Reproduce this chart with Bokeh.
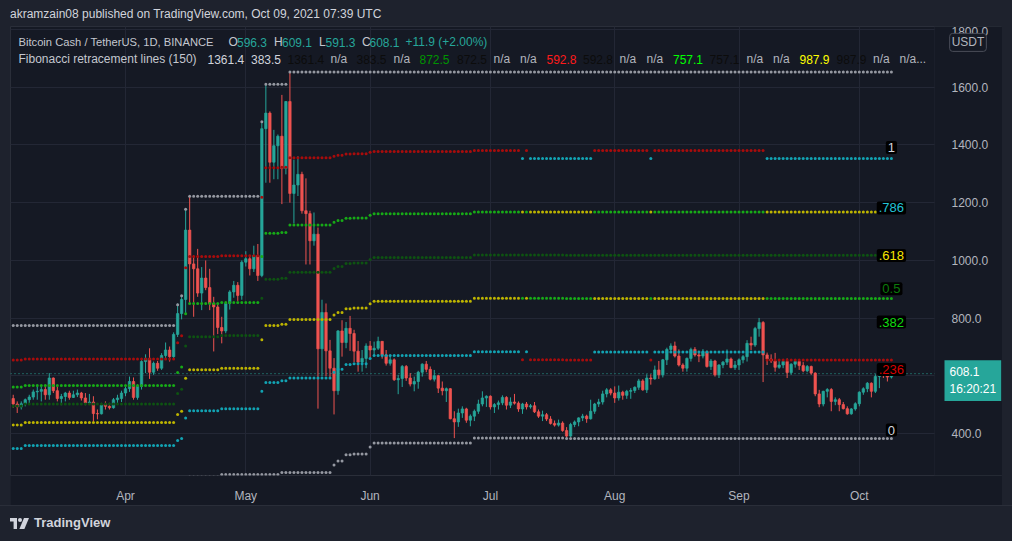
import numpy as np
import pandas as pd
from bokeh.plotting import figure
from bokeh.models import (ColumnDataSource, Span, Label, FixedTicker, BoxAnnotation,
                          NumeralTickFormatter, DatetimeTickFormatter, Range1d, Div)
from bokeh.layouts import column, row
from bokeh.embed import file_html
from bokeh.resources import INLINE

# ---------------- data (BCH/USDT daily, Binance) ----------------
FIRST_DAY = "2021-03-04"

OPEN = [
    522, 503, 493, 504, 518, 527, 545, 547, 553, 535, 593, 549, 522, 529, 541, 526, 535, 541, 524, 507, 510, 470, 469, 503, 495, 490, 518, 522,
    541, 556, 581, 526, 564, 650, 661, 613, 644, 627, 671, 690, 667, 744, 816, 865, 1105, 988, 971, 887, 939, 906, 851, 839, 768, 756, 851, 891, 914, 879,
    994, 1006, 971, 1017, 948, 1456, 1510, 1340, 1397, 1430, 1318, 1550, 1232, 1261, 1298, 1172, 1162, 1068, 1091, 694, 820, 687, 627, 549, 756, 716, 765, 747, 686, 648, 661,
    704, 690, 696, 720, 673, 644, 656, 587, 591, 633, 593, 572, 581, 613, 641, 623, 589, 601, 558, 549, 556, 452, 441, 472, 486, 447, 461, 478, 503, 524,
    530, 493, 501, 507, 526, 499, 510, 506, 486, 503, 493, 497, 476, 461, 466, 451, 436, 430, 437, 411, 392, 432, 441, 455, 461, 452, 478, 503, 510, 538, 552,
    541, 524, 544, 533, 547, 550, 561, 583, 552, 593, 590, 621, 604, 656, 692, 704, 669, 638, 627, 661, 692, 673, 669, 684, 633, 652, 604, 638, 648, 659, 629,
    638, 656, 667, 713, 707, 764, 785, 673, 659, 652, 630, 638, 650, 612, 641, 650, 636, 618, 633, 610, 538, 503, 547, 553, 512, 518, 501, 487, 469, 486,
    504, 544, 556, 575, 547, 598, 618, 607, 596.3,
]
HIGH = [
    535, 512, 512, 522, 535, 553, 570, 567, 570, 610, 595, 564, 538, 545, 549, 549, 553, 545, 541, 538, 530, 484, 507, 512, 507, 524, 535, 549,
    564, 598, 595, 572, 656, 675, 696, 650, 652, 679, 716, 702, 751, 851, 880, 1181, 1221, 1017, 1040, 977, 1000, 971, 874, 851, 805, 853, 897, 929, 925, 1000,
    1032, 1017, 1051, 1057, 1479, 1610, 1516, 1452, 1436, 1573, 1552, 1651, 1349, 1361, 1307, 1284, 1172, 1166, 1114, 864, 851, 725, 662, 759, 793, 787, 808, 760, 721, 690, 713,
    721, 719, 736, 721, 690, 673, 661, 604, 638, 638, 610, 598, 618, 644, 652, 633, 621, 604, 581, 560, 558, 478, 487, 495, 490, 467, 484, 518, 547, 533,
    533, 506, 515, 533, 530, 526, 538, 512, 507, 510, 503, 510, 484, 480, 472, 461, 446, 449, 443, 423, 438, 446, 457, 469, 466, 518, 507, 521, 549, 558, 558,
    564, 567, 549, 552, 558, 564, 590, 589, 606, 606, 636, 652, 659, 698, 713, 719, 692, 644, 664, 698, 700, 687, 693, 688, 659, 656, 641, 652, 692, 664, 652,
    661, 673, 724, 736, 770, 801, 790, 681, 675, 680, 652, 659, 661, 644, 659, 656, 648, 638, 636, 613, 552, 549, 558, 558, 526, 524, 510, 495, 489, 509,
    547, 561, 579, 578, 606, 627, 638, 627, 609.1,
]
LOW = [
    490, 472, 484, 495, 500, 518, 518, 512, 518, 518, 541, 512, 499, 512, 518, 524, 527, 515, 499, 501, 438, 450, 467, 484, 484, 487, 503, 510,
    530, 545, 518, 518, 553, 610, 590, 604, 618, 621, 659, 650, 660, 735, 796, 816, 851, 805, 874, 828, 897, 828, 685, 745, 713, 748, 830, 871, 860, 864,
    979, 948, 960, 929, 942, 1269, 1269, 1281, 1281, 1195, 1298, 1200, 1128, 1223, 1162, 986, 986, 1051, 487, 599, 599, 593, 467, 535, 667, 696, 687, 648, 615, 615, 627,
    661, 669, 690, 660, 636, 636, 583, 537, 562, 583, 564, 547, 556, 598, 613, 585, 581, 541, 533, 510, 450, 385, 424, 455, 438, 426, 444, 469, 495, 493,
    484, 472, 484, 499, 484, 489, 501, 476, 469, 484, 487, 472, 455, 444, 444, 432, 425, 425, 407, 383.5, 389, 423, 426, 444, 438, 449, 469, 493, 501, 526, 533,
    507, 515, 518, 521, 521, 541, 552, 549, 541, 570, 587, 590, 595, 638, 684, 664, 633, 615, 615, 650, 667, 648, 661, 629, 621, 598, 593, 627, 638, 627, 621,
    621, 644, 650, 690, 701, 736, 579, 638, 645, 615, 625, 627, 593, 604, 629, 621, 613, 613, 604, 530, 492, 495, 526, 478, 499, 478, 484, 466, 466, 480,
    495, 535, 544, 526, 541, 558, 593, 581, 591.3,
]
CLOSE = [
    503, 493, 504, 518, 527, 545, 547, 553, 535, 593, 549, 522, 529, 541, 526, 535, 541, 524, 507, 510, 470, 469, 499, 495, 490, 518, 524, 541,
    556, 581, 526, 564, 650, 661, 613, 644, 627, 671, 690, 667, 744, 816, 865, 1105, 988, 971, 887, 939, 906, 851, 839, 768, 756, 851, 891, 914, 879, 994,
    1006, 971, 1017, 948, 1456, 1510, 1340, 1397, 1430, 1318, 1550, 1232, 1261, 1298, 1172, 1162, 1068, 1091, 694, 820, 687, 627, 549, 756, 716, 765, 747, 686, 648, 661, 704,
    690, 696, 720, 673, 644, 656, 587, 591, 633, 593, 572, 581, 613, 641, 623, 589, 601, 558, 549, 556, 452, 441, 472, 486, 447, 461, 478, 503, 524, 530,
    493, 501, 507, 526, 499, 510, 506, 486, 503, 493, 497, 476, 461, 466, 451, 436, 430, 437, 411, 392, 432, 441, 455, 461, 452, 478, 503, 510, 538, 552, 541,
    524, 544, 533, 547, 550, 561, 583, 552, 593, 590, 621, 604, 656, 692, 704, 669, 638, 627, 661, 692, 673, 669, 684, 633, 652, 604, 638, 648, 659, 629, 638,
    656, 667, 713, 707, 764, 785, 673, 659, 652, 630, 638, 650, 612, 641, 650, 636, 618, 633, 610, 538, 503, 547, 553, 512, 518, 501, 487, 469, 486, 504,
    544, 556, 575, 547, 598, 618, 607, 596.3, 608.1,
]

# Fibonacci indicator (150): highest high / lowest low steps
HI_FROM = ["2021-03-04", "2021-04-14", "2021-04-15", "2021-04-16", "2021-04-17",
           "2021-05-05", "2021-05-06", "2021-05-12"]
HI_VAL = [775, 847, 878, 1177, 1222, 1480, 1610, 1652]
LO_FROM = ["2021-03-04", "2021-03-07", "2021-04-17", "2021-04-25", "2021-05-10",
           "2021-05-23", "2021-05-24", "2021-05-26", "2021-05-28", "2021-06-01",
           "2021-06-02", "2021-06-27", "2021-07-20"]
LO_VAL = [217, 231, 250, 259, 266, 292, 306, 327, 330, 354, 368, 385, 383.5]
DOWN_FROM = ["2021-07-09", "2021-07-11", "2021-08-10", "2021-09-08"]
DOWN_TO = ["2021-07-09", "2021-07-26", "2021-08-10", "2021-10-09"]
FIB_RATIO = [0.236, 0.382, 0.5, 0.618, 0.786]

# right-hand level labels
LEVEL_TEXT = ["1", ".786", ".618", "0.5", ".382", ".236", "0"]
LEVEL_VALUE = [1361.4, 1152.1, 987.9, 872.5, 757.1, 592.8, 383.5]

MONTHS = ["2021-04-01", "2021-05-01", "2021-06-01", "2021-07-01",
          "2021-08-01", "2021-09-01", "2021-10-01"]
PRICE_TICKS = [400, 600, 800, 1000, 1200, 1400, 1600, 1800]
LAST_PRICE = 608.1

# ---------------- styling ----------------
FONT = "Liberation Sans"
PANE = "#151924"
BAR = "#1e222d"
EDGE = "#2a2e39"
GRID = "#232735"
TEXT = "#b2b5be"
LIGHT = "#d1d4dc"
UP = "#26a69a"
DOWN = "#ef5350"
DOT_GRAY = "#9598a1"
FIB_COLOR = ["#12a3b3", "#bdb400", "#0e5212", "#17aa17", "#a80c0c"]
LEVEL_COLOR = ["#d1d4dc", "#22c3d8", "#f7e600", "#0b7a0b", "#10dd10", "#d80000", "#d1d4dc"]

APR1 = pd.Timestamp("2021-04-01")
PX_PER_DAY = 4.01


def px_to_t(px):
    return (APR1 + pd.Timedelta(days=(px - 125.0) / PX_PER_DAY)).to_pydatetime()


def py_to_p(py):
    return 400.0 + (436.0 - py) * 1200.0 / 349.0


N = len(CLOSE)
dates = pd.date_range(FIRST_DAY, periods=N, freq="D")
o = np.array(OPEN, float)
c = np.array(CLOSE, float)
h = np.maximum(np.array(HIGH, float), np.maximum(o, c))
l = np.minimum(np.array(LOW, float), np.minimum(o, c))
inc = c >= o

p = figure(width=992, height=479, x_axis_type="datetime", y_axis_location="right",
           x_range=Range1d(px_to_t(10), px_to_t(1002)),
           y_range=Range1d(py_to_p(478), py_to_p(26)),
           output_backend="svg", toolbar_location=None,
           min_border_left=0, min_border_right=0, min_border_top=0, min_border_bottom=27,
           background_fill_color=PANE, border_fill_color=PANE,
           outline_line_color=EDGE, outline_line_width=1)

xt = FixedTicker(ticks=[pd.Timestamp(m).value / 1e6 for m in MONTHS])
yt = FixedTicker(ticks=PRICE_TICKS)
p.xaxis.ticker = xt
p.xgrid.ticker = xt
p.yaxis.ticker = yt
p.ygrid.ticker = yt
p.xaxis.formatter = DatetimeTickFormatter(days="%b", months="%b", years="%b")
p.yaxis.formatter = NumeralTickFormatter(format="0.0")
for ax in (p.xaxis, p.yaxis):
    ax.axis_line_color = None
    ax.major_tick_line_color = None
    ax.minor_tick_line_color = None
    ax.major_label_text_color = TEXT
    ax.major_label_text_font = FONT
    ax.major_label_text_font_size = "12px"
p.xaxis.major_label_standoff = 7
p.yaxis.major_label_standoff = -57   # price scale drawn inside its own strip
p.xgrid.grid_line_color = GRID
p.ygrid.grid_line_color = GRID

# last-price dotted line, then the price-scale strip covering grid/line on the right
p.add_layout(Span(location=LAST_PRICE, dimension="width", line_color=UP,
                  line_dash="1 3", line_width=1, level="underlay"))
p.add_layout(BoxAnnotation(left=px_to_t(934), right=px_to_t(1010), fill_color=PANE,
                           fill_alpha=1.0, line_color=EDGE, line_width=1, level="underlay"))

src = ColumnDataSource(dict(t=dates, top=np.maximum(o, c), bot=np.minimum(o, c),
                            hi=h, lo=l, col=np.where(inc, UP, DOWN)))
p.segment(x0="t", y0="hi", x1="t", y1="lo", line_color="col", line_width=1, source=src)
p.vbar(x="t", width=0.6 * 86400000, top="top", bottom="bot",
       fill_color="col", line_color="col", line_width=0.7, source=src)


def step(froms, vals):
    idx = np.searchsorted(pd.to_datetime(froms).values, dates.values, side="right") - 1
    return np.asarray(vals, float)[idx]


hi_lvl = step(HI_FROM, HI_VAL)
lo_lvl = step(LO_FROM, LO_VAL)
down = np.zeros(N, dtype=bool)
for a, b in zip(DOWN_FROM, DOWN_TO):
    down |= (dates >= pd.Timestamp(a)) & (dates <= pd.Timestamp(b))
span = hi_lvl - lo_lvl

p.scatter(dates, hi_lvl, size=3, fill_color=DOT_GRAY, line_color=None)
p.scatter(dates, lo_lvl, size=3, fill_color=DOT_GRAY, line_color=None)
for r, col in zip(FIB_RATIO, FIB_COLOR):
    lvl = np.where(down, hi_lvl - r * span, lo_lvl + r * span)
    p.scatter(dates, lvl, size=3, fill_color=col, line_color=None)

# level labels at the last bar
for txt, val, col in zip(LEVEL_TEXT, LEVEL_VALUE, LEVEL_COLOR):
    p.add_layout(Label(x=dates[-1].to_pydatetime(), y=val, text=txt, text_color=col,
                       text_font=FONT, text_font_size="13px", text_align="center",
                       text_baseline="bottom", y_offset=2,
                       background_fill_color="#000000", padding=2, border_radius=2))

# legend (two lines, multi-coloured)
NA = "#b2b5be"
BLACK = "#0c0c0c"
HEAD = "#c4c7cf"
LEG1 = [("Bitcoin Cash / TetherUS, 1D, BINANCE", HEAD, 18, "11.2px"), ("O", HEAD, 228, "12px"),
        ("596.3", UP, 236.5, "12px"), ("H", HEAD, 273.5, "12px"), ("609.1", UP, 281.5, "12px"),
        ("L", HEAD, 318.5, "12px"), ("591.3", UP, 325, "12px"), ("C", HEAD, 361.5, "12px"),
        ("608.1", UP, 369, "12px"), ("+11.9 (+2.00%)", UP, 405, "12px")]
LEG2 = [("Fibonacci retracement lines (150)", HEAD, 18), ("1361.4", LIGHT, 207),
        ("383.5", LIGHT, 250.5), ("1361.4", BLACK, 287), ("n/a", NA, 330),
        ("383.5", BLACK, 356), ("n/a", NA, 393), ("872.5", "#009400", 419),
        ("872.5", BLACK, 456.5), ("n/a", NA, 493), ("n/a", NA, 519.5),
        ("592.8", "#ff1a1a", 546), ("592.8", BLACK, 582.5), ("n/a", NA, 619),
        ("n/a", NA, 646), ("757.1", "#00ff00", 672.5), ("757.1", BLACK, 709),
        ("n/a", NA, 746), ("n/a", NA, 772.5), ("987.9", "#ffff00", 799),
        ("987.9", BLACK, 836), ("n/a", NA, 872.5), ("n/a...", NA, 899)]
for txt, col, xpx, fs in LEG1:
    p.add_layout(Label(x=px_to_t(xpx), y=py_to_p(42), text=txt, text_color=col,
                       text_font=FONT, text_font_size=fs,
                       text_align="left", text_baseline="middle"))
for txt, col, xpx in LEG2:
    p.add_layout(Label(x=px_to_t(xpx), y=py_to_p(59), text=txt, text_color=col,
                       text_font=FONT, text_font_size="12px",
                       text_align="left", text_baseline="middle"))

# price-scale badges
p.add_layout(Label(x=px_to_t(944), y=py_to_p(382.5), text="608.1\n16:20:21",
                   text_color="#ffffff", text_font=FONT, text_font_size="12px",
                   text_align="left", text_baseline="middle",
                   background_fill_color=UP, padding=5))
p.add_layout(Label(x=px_to_t(967.5), y=py_to_p(42), text="USDT", text_color=TEXT,
                   text_font=FONT, text_font_size="12px", text_align="center",
                   text_baseline="middle", background_fill_color=PANE,
                   border_line_color="#4a4e59", border_radius=3, padding=2))

top = Div(text='<div style="position:relative;left:10px;white-space:nowrap;">'
               'akramzain08 published on TradingView.com, Oct 09, 2021 07:39 UTC</div>',
          width=1012, height=26, margin=0,
          styles={"background-color": BAR, "color": LIGHT, "font-family": FONT,
                  "font-size": "12px", "line-height": "28px", "overflow": "hidden"})

logo = ('<div style="position:relative;left:10px;top:9px;height:16px;white-space:nowrap;'
        'display:flex;align-items:center;gap:5px;">'
        '<svg width="19" height="11" viewBox="0 0 19 11">'
        '<path d="M0 0h7v11h-3.4v-7.6H0z" fill="#d1d4dc"/>'
        '<circle cx="10" cy="2" r="2" fill="#d1d4dc"/>'
        '<path d="M14 0h5l-4.6 11H9.4z" fill="#d1d4dc"/></svg>'
        '<span style="font-weight:bold;font-size:13px;color:#d1d4dc;">TradingView</span></div>')
bottom = Div(text=logo, width=1012, height=36, margin=0,
             styles={"background-color": BAR, "font-family": FONT, "overflow": "hidden",
                     "border-top": "1px solid " + EDGE, "box-sizing": "border-box"})
left_strip = Div(text="", width=10, height=479, margin=0, styles={"background-color": BAR})
right_strip = Div(text="", width=10, height=479, margin=0, styles={"background-color": BAR})

mid = row(left_strip, p, right_strip, spacing=0, styles={"background-color": BAR})
page = column(top, mid, bottom, spacing=0, styles={"background-color": BAR})
open("out.html", "w").write(file_html(page, INLINE))
